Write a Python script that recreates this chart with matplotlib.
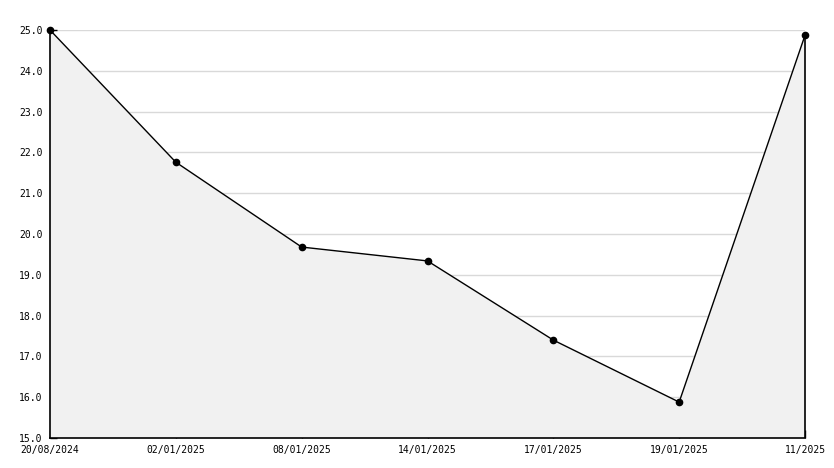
import matplotlib
matplotlib.use("Agg")
import matplotlib.pyplot as plt
from matplotlib.ticker import MultipleLocator, FormatStrFormatter

labels = ["20/08/2024", "02/01/2025", "08/01/2025", "14/01/2025",
          "17/01/2025", "19/01/2025", "11/2025"]
values = [25.0, 21.76, 19.68, 19.34, 17.4, 15.88, 24.87]

W, H = 834, 468
fig = plt.figure(figsize=(W / 100, H / 100), dpi=100)
ax = fig.add_axes([50 / W, (H - 438) / H, (805 - 50) / W, (438 - 30) / H])

x = list(range(len(values)))
ax.set_xlim(0, len(values) - 1)
ax.set_ylim(15, 25)

ax.yaxis.set_major_locator(MultipleLocator(1))
ax.yaxis.set_minor_locator(MultipleLocator(0.5))
ax.yaxis.set_major_formatter(FormatStrFormatter("%.1f"))

# gridlines drawn beneath the fill
for v in range(16, 26):
    ax.axhline(v, color="#d9d9d9", linewidth=1, zorder=0.2)

ax.fill_between(x, values, 15, facecolor="#f1f1f1", edgecolor="none",
                zorder=2)
ax.plot(x, values, color="black", linewidth=1, zorder=3)
ax.plot(x, values, linestyle="none", marker="o", markersize=4.5,
        color="black", zorder=5, clip_on=False)
ax.vlines(x[-1], 15, values[-1], color="black", linewidth=1.2, zorder=3,
          clip_on=False)

ax.set_xticks(x)
ax.set_xticklabels(labels)

for s in ["top", "right"]:
    ax.spines[s].set_visible(False)
for s in ["left", "bottom"]:
    ax.spines[s].set_linewidth(1.2)
    ax.spines[s].set_color("black")
    ax.spines[s].set_zorder(4)

ax.tick_params(axis="y", which="major", direction="in", length=5, width=1,
               pad=5.5, labelsize=7)
ax.tick_params(axis="y", which="minor", direction="in", length=5, width=1)
ax.tick_params(axis="x", which="major", direction="in", length=6, width=1,
               pad=5, labelsize=7)
for lab in ax.get_xticklabels() + ax.get_yticklabels():
    lab.set_family("DejaVu Sans Mono")

fig.savefig("out.png", dpi=100)
